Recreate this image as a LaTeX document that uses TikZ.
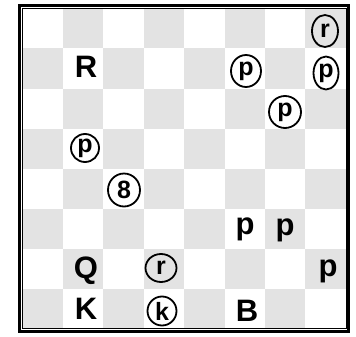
\documentclass[tikz,border=0pt]{standalone}
\usepackage{fontspec}
\setmainfont{Liberation Sans}
\usetikzlibrary{shapes.geometric}
\begin{document}
\begin{tikzpicture}[x=1pt,y=-1pt,
  wpiece/.style={font=\bfseries\fontsize{31}{31}\selectfont, inner sep=0pt},
  bpiece/.style={ellipse, draw, line width=1.8pt, minimum width=29pt, minimum height=30pt, inner sep=0pt, font=\bfseries\fontsize{25}{25}\selectfont},
  darksq/.style={fill=black!11}]
\useasboundingbox (0,0) rectangle (356,337);
\fill[white] (0,0) rectangle (356,337);
\foreach \c in {0,...,7} {
  \foreach \r in {0,...,7} {
    \ifodd\numexpr\c+\r\relax
      \fill[darksq] ({22.5+40.4*\c},{8.5+40*\r}) rectangle +(40.4,40);
    \fi
  }
}
\draw[line width=3pt] (19.5,5.5) rectangle (348.5,331.5);
\draw[line width=0.6pt] (22.5,8.5) rectangle (345.8,328.2);
% white pieces
\node[wpiece] (wR) at (86,67) {R};
\node[wpiece] (wQ) at (86,271) {Q};
\node[wpiece] (wK) at (86,309) {K};
\node[wpiece] (wB) at (247,311) {B};
\node[wpiece] (wp1) at (245,229) {p};
\node[wpiece] (wp2) at (285,230) {p};
\node[wpiece] (wp3) at (328,271) {p};
% black pieces
\node[bpiece, minimum width=26pt, minimum height=32pt] (br1) at (325,31) {r};
\node[bpiece, minimum width=30pt, minimum height=32pt] (bp1) at (246,71) {p};
\node[bpiece, minimum width=25pt, minimum height=33pt] (bp2) at (326,73) {p};
\node[bpiece, minimum width=32pt, minimum height=32pt] (bp3) at (285,112) {p};
\node[bpiece, minimum width=28pt, minimum height=28pt] (bp4) at (85,148) {p};
\node[bpiece, minimum width=32pt, minimum height=33pt] (bb) at (124,190) {8};
\node[bpiece, minimum width=31pt, minimum height=28pt] (br2) at (161,268) {r};
\node[bpiece, minimum width=29pt, minimum height=29pt] (bk) at (162,311) {k};
\end{tikzpicture}
\end{document}
